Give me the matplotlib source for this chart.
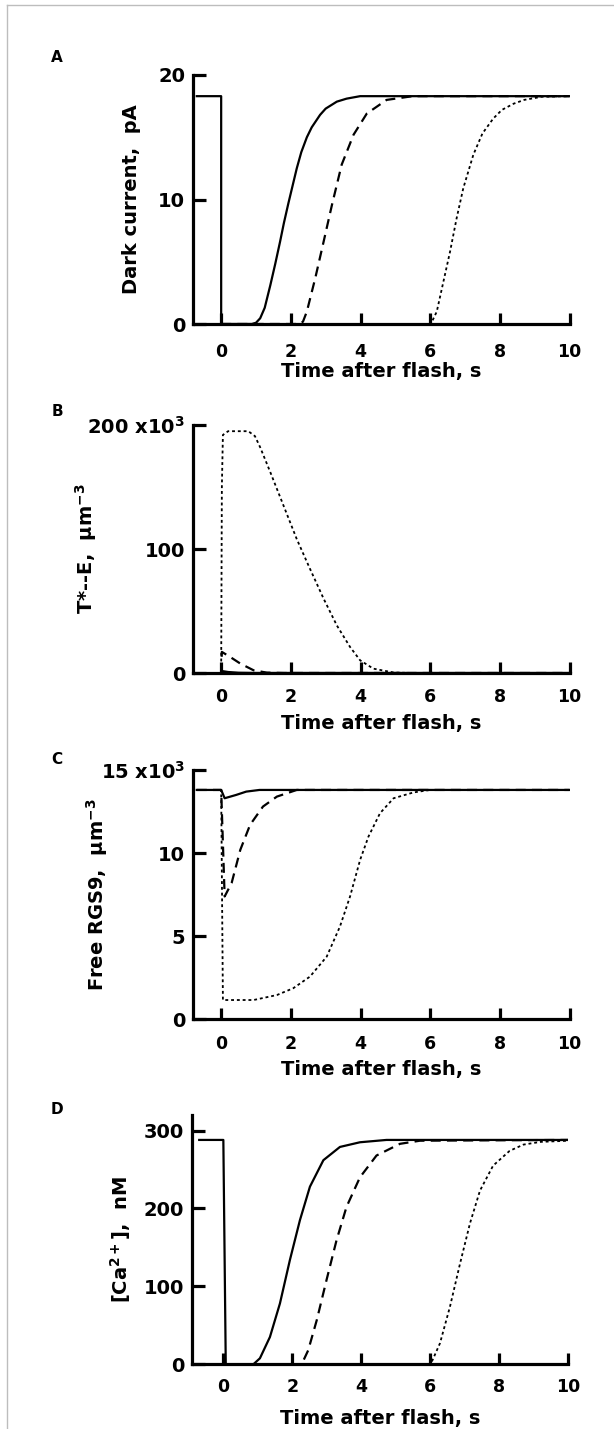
import matplotlib
matplotlib.use("Agg")
import matplotlib.pyplot as plt
from matplotlib.lines import Line2D

plt.rcParams['font.family'] = ['DejaVu Sans']
plt.rcParams['font.weight'] = 'bold'
plt.rcParams['mathtext.default'] = 'bf'

# ---------------- data ----------------
# Panel A: dark current (pA)
a_t_solid = [-0.7, 0, 0, 0.88, 1.0, 1.12, 1.25, 1.41, 1.55, 1.69, 1.8, 1.93, 2.05, 2.17, 2.3, 2.46, 2.6, 2.84, 3.0, 3.32, 3.6, 3.99, 10]
a_solid = [18.3, 18.3, 0, 0, 0.1, 0.46, 1.3, 3.1, 4.8, 6.6, 8.1, 9.7, 11.1, 12.5, 13.8, 15.0, 15.8, 16.8, 17.3, 17.86, 18.1, 18.3, 18.3]
a_t_dash = [0, 2.27, 2.35, 2.46, 2.70, 2.94, 3.18, 3.46, 3.80, 4.18, 4.75, 5.5, 10]
a_dash = [0, 0, 0.2, 1.0, 3.67, 6.6, 9.56, 12.8, 15.2, 16.9, 18.0, 18.3, 18.3]
a_t_dot = [0, 6.02, 6.19, 6.38, 6.57, 6.76, 6.95, 7.24, 7.5, 7.81, 8.06, 8.4, 8.7, 9.2, 10]
a_dot = [0, 0, 1.0, 3.4, 5.8, 8.5, 10.9, 13.6, 15.3, 16.5, 17.2, 17.7, 18.0, 18.25, 18.3]

# Panel B: T*-E (x10^3 um^-3)
b_t_solid = [0, 0.02, 0.2, 0.5, 1.0, 10]
b_solid = [0, 1.6, 0.8, 0.2, 0, 0]
b_t_dash = [0, 0.02, 0.26, 0.55, 0.93, 1.31, 1.8, 10]
b_dash = [0, 17, 12.9, 7.6, 2.2, 0.3, 0, 0]
b_t_dot = [0, 0.02, 0.05, 0.2, 0.78, 0.97, 1.12, 1.41, 1.79, 2.17, 2.55, 2.94, 3.32, 3.70, 3.99, 4.37, 4.95, 5.5, 10]
b_dot = [0, 150, 192, 195, 195, 191, 182, 162, 135, 108, 84, 60, 38.4, 21, 10.2, 3.5, 0.4, 0, 0]

# Panel C: free RGS9 (x10^3 um^-3)
c_t_solid = [-0.7, 0, 0.1, 0.43, 0.72, 1.1, 10]
c_solid = [13.8, 13.8, 13.3, 13.5, 13.7, 13.8, 13.8]
c_t_dash = [-0.7, 0, 0.1, 0.3, 0.55, 0.83, 1.2, 1.6, 2.17, 10]
c_dash = [13.8, 13.8, 7.39, 8.2, 10.2, 11.7, 12.8, 13.4, 13.8, 13.8]
c_t_dot = [-0.7, 0, 0.05, 0.93, 1.6, 2.07, 2.55, 3.03, 3.41, 3.70, 3.99, 4.23, 4.56, 4.95, 5.52, 6.0, 10]
c_dot = [13.8, 13.8, 1.16, 1.16, 1.46, 1.87, 2.57, 3.77, 5.58, 7.39, 9.6, 11.0, 12.4, 13.3, 13.65, 13.8, 13.8]

# Panel D: [Ca2+] (nM)
d_t_solid = [-0.7, 0, 0.07, 0.87, 1.06, 1.35, 1.64, 1.93, 2.22, 2.51, 2.90, 3.38, 3.96, 4.73, 10]
d_solid = [288, 288, 0, 0, 7.7, 35, 78, 134, 185, 228, 262, 279, 285, 288, 288]
d_t_dash = [0.07, 2.27, 2.46, 2.71, 2.99, 3.28, 3.57, 3.96, 4.44, 5.12, 5.7, 10]
d_dash = [0, 0, 18, 57, 108, 159, 202, 240, 268, 283, 287, 288]
d_t_dot = [0.07, 6.01, 6.28, 6.57, 6.86, 7.15, 7.44, 7.82, 8.3, 8.7, 9.2, 10]
d_dot = [0, 0, 27, 74, 129, 181, 223, 255, 274, 282, 285.5, 287]

x_ticks = [0, 2, 4, 6, 8, 10]
a_yticks = [0, 10, 20]
a_ylabels = ["0", "10", "20"]
b_yticks = [0, 100, 200]
b_ylabels = ["0", "100", "200 x10$^3$"]
c_yticks = [0, 5, 10, 15]
c_ylabels = ["0", "5", "10", "15 x10$^3$"]
d_yticks = [0, 100, 200, 300]
d_ylabels = ["0", "100", "200", "300"]

xlabel = "Time after flash, s"
ylabels = ["Dark current,  pA", "T*--E,  µm$^{-3}$", "Free RGS9,  µm$^{-3}$", "[Ca$^{2+}$],  nM"]
letters = ["A", "B", "C", "D"]

# ---------------- figure ----------------
W, H = 614, 1429
fig = plt.figure(figsize=(W / 100, H / 100), dpi=100)

def fx(px):
    return px / W

def fy(py):
    return 1 - py / H

# axes pixel boxes: left, right, top, bottom
boxes = [
    (193.3, 569.5, 75, 324),
    (193.3, 569.5, 425, 673),
    (193.3, 569.5, 770, 1019.3),
    (192.3, 568.3, 1115, 1364.3),
]
xlims = [(-0.8, 10), (-0.8, 10), (-0.8, 10), (-0.9, 10)]
ylims = [(0, 20), (0, 200), (0, 15), (0, 320)]
yticks = [a_yticks, b_yticks, c_yticks, d_yticks]
ytl = [a_ylabels, b_ylabels, c_ylabels, d_ylabels]
series = [
    [(a_t_solid, a_solid), (a_t_dash, a_dash), (a_t_dot, a_dot)],
    [(b_t_solid, b_solid), (b_t_dash, b_dash), (b_t_dot, b_dot)],
    [(c_t_solid, c_solid), (c_t_dash, c_dash), (c_t_dot, c_dot)],
    [(d_t_solid, d_solid), (d_t_dash, d_dash), (d_t_dot, d_dot)],
]
ylabel_right_px = [141, 99, 110, 133]
xlabel_baseline_px = [377, 729, 1075, 1424]
xtick_pad = [14, 11, 11, 10]
letter_pos = [(57, 57), (57, 411), (57, 759), (57, 1110)]

for i in range(4):
    l, r, t, b = boxes[i]
    ax = fig.add_axes([fx(l), fy(b), (r - l) / W, (b - t) / H])
    (ts, ys), (td, yd), (to, yo) = series[i]
    ax.plot(to, yo, color='black', lw=1.3, linestyle=(0, (1.6, 1.6)))
    ax.plot(td, yd, color='black', lw=1.6, linestyle=(0, (4.5, 2.8)))
    ax.plot(ts, ys, color='black', lw=1.6, solid_joinstyle='round')
    ax.set_xlim(*xlims[i])
    ax.set_ylim(*ylims[i])
    for s in ['top', 'right']:
        ax.spines[s].set_visible(False)
    for s in ['left', 'bottom']:
        ax.spines[s].set_linewidth(2.3)
    ax.set_xticks(x_ticks)
    ax.set_yticks(yticks[i])
    ax.set_yticklabels(ytl[i])
    ax.tick_params(axis='x', direction='in', length=7.7, width=2.3, pad=xtick_pad[i], labelsize=12.5)
    ax.tick_params(axis='y', direction='in', length=9, width=2.3, pad=5.8, labelsize=14)
    for lab in ax.get_xticklabels() + ax.get_yticklabels():
        lab.set_fontweight('bold')
    ax.set_ylabel(ylabels[i], fontsize=14, fontweight='bold')
    ax.yaxis.set_label_coords((ylabel_right_px[i] - l) / (r - l), 0.5)
    fig.text(fx((l + r) / 2), fy(xlabel_baseline_px[i]), xlabel, ha='center', va='baseline',
             fontsize=14, fontweight='bold')
    fig.text(fx(letter_pos[i][0]), fy(letter_pos[i][1]), letters[i], ha='center', va='center',
             fontsize=11, fontweight='bold')

# light gray frame
fig.add_artist(Line2D([fx(6.5), fx(6.5)], [0, fy(4.5)], color='#bdbdbd', lw=1.0))
fig.add_artist(Line2D([fx(6.5), 1], [fy(4.5), fy(4.5)], color='#bdbdbd', lw=1.0))

fig.savefig("out.png", dpi=100)
